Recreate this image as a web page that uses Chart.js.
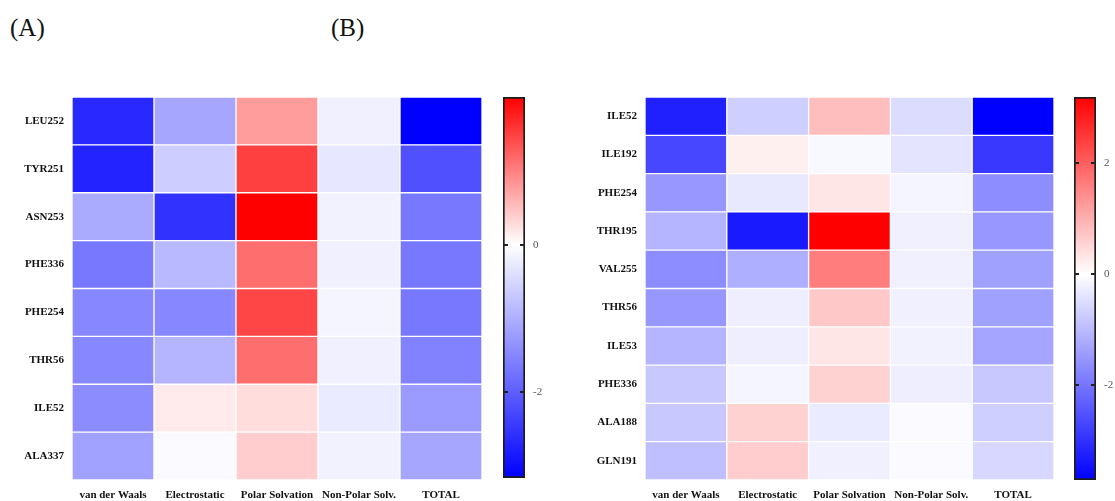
<!DOCTYPE html>
<html>
<head>
<meta charset="utf-8">
<script src="https://cdn.jsdelivr.net/npm/chart.js@4/dist/chart.umd.min.js"></script>
<style>
  body { margin: 0; background: #fff; width: 1115px; height: 501px; position: relative; overflow: hidden; }
  canvas { position: absolute; }
  .panel-tag { position: absolute; font-family: "Liberation Serif", "DejaVu Serif", serif; font-size: 25px; color: #111; }
</style>
</head>
<body>
<div class="panel-tag" style="left:10px; top:14px;">(A)</div>
<div class="panel-tag" style="left:331px; top:14px;">(B)</div>

<canvas id="heatA" style="left:0px; top:92px;" width="482" height="409"></canvas>
<canvas id="barA" style="left:503px; top:92px;" width="40" height="386"></canvas>
<canvas id="heatB" style="left:560px; top:92px;" width="494" height="409"></canvas>
<canvas id="barB" style="left:1074px; top:92px;" width="41" height="388"></canvas>

<script>
// --- column categories (same for both panels) ---
const energyTerms = ['van der Waals', 'Electrostatic', 'Polar Solvation', 'Non-Polar Solv.', 'TOTAL'];

// --- panel A values (kcal/mol) ---
const residuesA = ['LEU252', 'TYR251', 'ASN253', 'PHE336', 'PHE254', 'THR56', 'ILE52', 'ALA337'];
const vdwA      = [-2.66, -2.73, -1.05, -1.67, -1.49, -1.49, -1.43, -1.17];
const elecA     = [-1.10, -0.62, -2.54, -0.87, -1.49, -0.93,  0.16, -0.06];
const polarA    = [ 0.78,  1.50,  2.00,  1.14,  1.45,  1.14,  0.27,  0.39];
const nonpolarA = [-0.19, -0.30, -0.16, -0.19, -0.12, -0.19, -0.25, -0.16];
const totalA    = [-3.16, -2.17, -1.67, -1.67, -1.67, -1.55, -1.24, -1.10];
const colorTicksA = [-2, 0];

// --- panel B values ---
const residuesB = ['ILE52', 'ILE192', 'PHE254', 'THR195', 'VAL255', 'THR56', 'ILE53', 'PHE336', 'ALA188', 'GLN191'];
const vdwB      = [-3.26, -2.68, -1.52, -1.09, -1.67, -1.52, -1.09, -0.80, -0.80, -0.94];
const elecB     = [-0.72,  0.19, -0.33, -3.34, -1.16, -0.25, -0.25, -0.15,  0.56,  0.63];
const polarB    = [ 0.81, -0.10,  0.31,  3.20,  1.63,  0.69,  0.31,  0.56, -0.29, -0.22];
const nonpolarB = [-0.51, -0.39, -0.15, -0.22, -0.22, -0.22, -0.19, -0.25, -0.07, -0.07];
const totalB    = [-3.72, -2.90, -1.67, -1.52, -1.38, -1.38, -1.31, -0.80, -0.72, -0.58];
const colorTicksB = [-2, 0, 2];

const labelFont = { family: '"Liberation Serif", "Times New Roman", serif', size: 11, weight: 'bold' };
const colorbarFont = { family: '"Liberation Serif", "Times New Roman", serif', size: 11 };

// blue - white - red, white at zero, full colour at the data extremes
function cellColor(v, min, max) {
    if (v >= 0) {
        const c = Math.round(255 * (1 - Math.min(v / max, 1)));
        return `rgb(255,${c},${c})`;
    }
    const c = Math.round(255 * (1 - Math.min(v / min, 1)));
    return `rgb(${c},${c},255)`;
}

// keep the axis from pushing the plot area in for half-label room
function noScalePadding(scale) {
    scale.paddingTop = 0;
    scale.paddingBottom = 0;
    scale.paddingLeft = 0;
    scale.paddingRight = 0;
}

function makeHeatmap(canvasId, residues, columns, labelWidth) {
    const all = columns.flat();
    const min = Math.min(...all);
    const max = Math.max(...all);
    const n = residues.length;

    // stacked bars, each cell is one unit tall; last residue goes in first so the first one ends on top
    const datasets = [];
    for (let i = n - 1; i >= 0; i--) {
        datasets.push({
            label: residues[i],
            data: columns.map(() => 1),
            backgroundColor: columns.map(col => cellColor(col[i], min, max)),
            borderColor: 'rgba(255,255,255,0.75)',
            borderWidth: 1,
            borderSkipped: false,
            barPercentage: 1,
            categoryPercentage: 1
        });
    }

    new Chart(document.getElementById(canvasId), {
        type: 'bar',
        data: { labels: energyTerms, datasets },
        options: {
            responsive: false,
            animation: false,
            layout: { autoPadding: false, padding: { top: 5, right: 0, left: 0, bottom: 0 } },
            plugins: { legend: { display: false }, tooltip: { enabled: false } },
            scales: {
                x: {
                    stacked: true,
                    grid: { display: false, drawTicks: false },
                    border: { display: false },
                    ticks: { color: '#111', font: labelFont, padding: 9, autoSkip: false, maxRotation: 0 },
                    afterFit: (scale) => { scale.height = 21; noScalePadding(scale); }
                },
                y: {
                    stacked: true,
                    min: 0,
                    max: n,
                    grid: { display: false, drawTicks: false },
                    border: { display: false },
                    afterBuildTicks: (axis) => {
                        axis.ticks = residues.map((_, i) => ({ value: n - i - 0.5 }));
                    },
                    ticks: {
                        color: '#111',
                        font: labelFont,
                        padding: 8,
                        callback: (value) => residues[Math.round(n - value - 0.5)]
                    },
                    afterFit: (scale) => { scale.width = labelWidth; noScalePadding(scale); }
                }
            }
        }
    });
    return { min, max };
}

// short marks on both edges of the colour bar at each tick
const edgeTicks = {
    id: 'edgeTicks',
    afterDatasetsDraw(chart) {
        const { ctx, chartArea, scales } = chart;
        ctx.save();
        ctx.strokeStyle = '#222';
        ctx.lineWidth = 2;
        scales.y.ticks.forEach(t => {
            const y = Math.round(scales.y.getPixelForValue(t.value));
            ctx.beginPath();
            ctx.moveTo(chartArea.left, y);
            ctx.lineTo(chartArea.left + 5, y);
            ctx.moveTo(chartArea.right - 5, y);
            ctx.lineTo(chartArea.right, y);
            ctx.stroke();
        });
        ctx.restore();
    }
};

function makeColorbar(canvasId, range, tickValues, axisWidth) {
    new Chart(document.getElementById(canvasId), {
        type: 'bar',
        data: {
            labels: [''],
            datasets: [{
                data: [[range.min, range.max]],
                backgroundColor: (ctx) => {
                    const chart = ctx.chart;
                    const area = chart.chartArea;
                    if (!area) return null;
                    const y = chart.scales.y;
                    const g = chart.ctx.createLinearGradient(0, y.getPixelForValue(range.min), 0, y.getPixelForValue(range.max));
                    const zeroStop = (0 - range.min) / (range.max - range.min);
                    g.addColorStop(0, 'rgb(0,0,255)');
                    g.addColorStop(zeroStop, 'rgb(255,255,255)');
                    g.addColorStop(1, 'rgb(255,0,0)');
                    return g;
                },
                borderColor: '#1c1c1c',
                borderWidth: 2,
                borderSkipped: false,
                barPercentage: 1,
                categoryPercentage: 1
            }]
        },
        options: {
            responsive: false,
            animation: false,
            layout: { autoPadding: false, padding: { top: 5, left: 0, right: 0, bottom: 0 } },
            plugins: { legend: { display: false }, tooltip: { enabled: false } },
            scales: {
                x: { display: false },
                y: {
                    position: 'right',
                    min: range.min,
                    max: range.max,
                    afterBuildTicks: (axis) => {
                        axis.ticks = tickValues.map(v => ({ value: v }));
                    },
                    grid: { display: false, drawTicks: false },
                    border: { display: false },
                    ticks: { color: '#555', font: colorbarFont, padding: 8 },
                    afterFit: (scale) => { scale.width = axisWidth; noScalePadding(scale); }
                }
            }
        },
        plugins: [edgeTicks]
    });
}

const rangeA = makeHeatmap('heatA', residuesA, [vdwA, elecA, polarA, nonpolarA, totalA], 72);
const rangeB = makeHeatmap('heatB', residuesB, [vdwB, elecB, polarB, nonpolarB, totalB], 85);
makeColorbar('barA', rangeA, colorTicksA, 18);
makeColorbar('barB', rangeB, colorTicksB, 19);
</script>
</body>
</html>
